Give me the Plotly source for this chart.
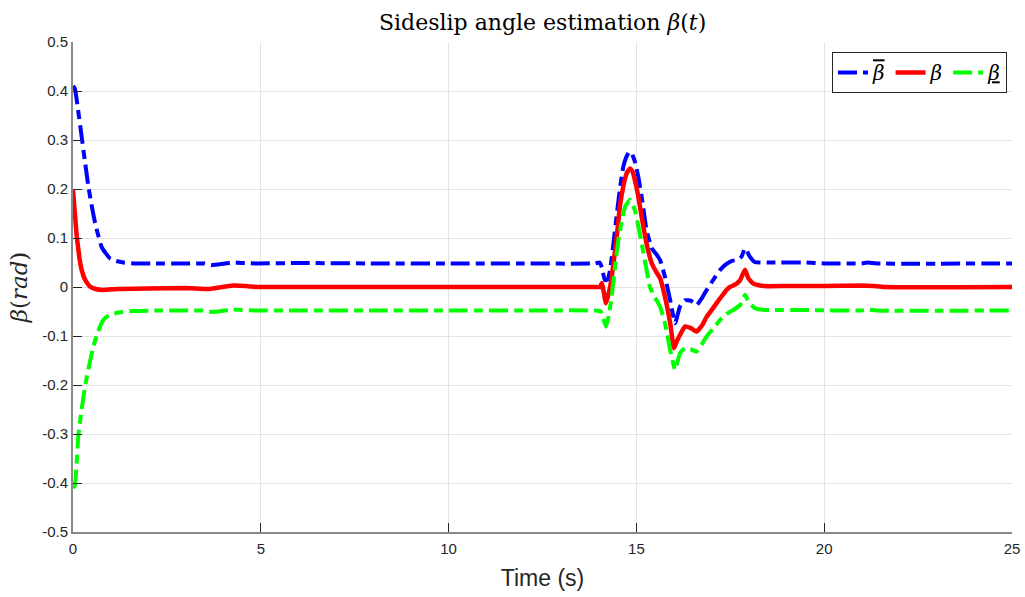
import plotly.graph_objects as go

# ---- data ----
t_upper = [0, 0.05, 0.12, 0.23, 0.32, 0.41, 0.5, 0.59, 0.68, 0.76, 0.88, 0.99, 1.15, 1.34, 1.7, 2.2, 3.0, 3.5, 3.68, 3.85,
           4.05, 4.26, 4.5, 4.9, 6, 8, 10, 12, 13.9, 14.02, 14.08, 14.16, 14.23, 14.3, 14.39, 14.48, 14.56, 14.65, 14.73, 14.81,
           14.88, 14.96, 15.05, 15.14, 15.27, 15.41, 15.52, 15.63, 15.76, 15.9, 16.03, 16.16, 16.29, 16.45, 16.6, 16.75, 16.87, 17.05, 17.23, 17.4,
           17.53, 17.71, 17.8, 17.89, 17.95, 18.02, 18.15, 18.3, 18.6, 19.5, 20.0, 21.0, 21.15, 21.4, 25]
v_upper = [0.41, 0.405, 0.37, 0.307, 0.255, 0.205, 0.165, 0.13, 0.103, 0.082, 0.068, 0.058, 0.053, 0.05, 0.048, 0.048, 0.048, 0.048, 0.045, 0.046,
           0.048, 0.05, 0.049, 0.048, 0.049, 0.048, 0.048, 0.048, 0.048, 0.05, 0.04, 0.014, 0.015, 0.035, 0.09, 0.15, 0.2, 0.245, 0.265, 0.276,
           0.272, 0.256, 0.225, 0.184, 0.116, 0.079, 0.068, 0.055, 0.021, -0.027, -0.074, -0.04, -0.027, -0.028, -0.037, -0.022, -0.006, 0.015, 0.035, 0.047,
           0.053, 0.056, 0.062, 0.079, 0.072, 0.062, 0.051, 0.05, 0.05, 0.05, 0.048, 0.048, 0.05, 0.048, 0.048]

t_beta = [0, 0.05, 0.1, 0.17, 0.23, 0.32, 0.45, 0.6, 0.8, 1.2, 2.0, 3.0, 3.65, 3.9, 4.26, 4.6, 4.9, 6, 8, 10,
          12, 13.9, 14.03, 14.08, 14.13, 14.19, 14.3, 14.39, 14.48, 14.56, 14.65, 14.74, 14.83, 14.9, 14.96, 15.05, 15.14, 15.27, 15.41, 15.52,
          15.63, 15.76, 15.9, 16.0, 16.08, 16.16, 16.29, 16.45, 16.6, 16.75, 16.87, 17.05, 17.23, 17.4, 17.49, 17.67, 17.76, 17.89, 17.98, 18.11,
          18.38, 19.0, 20.0, 21.0, 21.3, 21.6, 25]
v_beta = [0.198, 0.15, 0.103, 0.06, 0.035, 0.015, 0.001, -0.004, -0.006, -0.004, -0.003, -0.002, -0.004, -0.001, 0.003, 0.002, 0.0, 0.0, 0.0, 0.0,
          0.0, 0.0, 0.0, 0.008, -0.01, -0.033, 0.0, 0.048, 0.105, 0.164, 0.205, 0.232, 0.242, 0.235, 0.218, 0.185, 0.143, 0.089, 0.048, 0.032,
          0.018, -0.02, -0.074, -0.125, -0.11, -0.098, -0.081, -0.084, -0.091, -0.078, -0.061, -0.042, -0.023, -0.006, 0.0, 0.007, 0.014, 0.035, 0.018, 0.007,
          0.002, 0.002, 0.002, 0.003, 0.002, 0.0, 0.0]

t_lower = [0, 0.05, 0.14, 0.23, 0.32, 0.43, 0.54, 0.67, 0.81, 0.95, 1.1, 1.3, 1.6, 2.2, 3.0, 3.5, 3.68, 3.85, 4.05, 4.26,
           4.5, 4.9, 6, 8, 10, 12, 13.9, 14.05, 14.12, 14.19, 14.26, 14.34, 14.43, 14.52, 14.6, 14.7, 14.83, 14.96, 15.05, 15.14,
           15.27, 15.36, 15.5, 15.63, 15.76, 15.9, 16.03, 16.16, 16.29, 16.45, 16.6, 16.75, 16.87, 17.05, 17.23, 17.4, 17.58, 17.76, 17.89, 17.95,
           18.02, 18.15, 18.3, 18.6, 19.5, 21.0, 21.15, 21.4, 25]
v_lower = [-0.41, -0.405, -0.305, -0.25, -0.203, -0.16, -0.122, -0.09, -0.067, -0.058, -0.054, -0.051, -0.049, -0.048, -0.048, -0.048, -0.051, -0.05, -0.048, -0.046,
           -0.047, -0.048, -0.048, -0.048, -0.048, -0.048, -0.048, -0.05, -0.065, -0.081, -0.06, -0.02, 0.04, 0.096, 0.13, 0.164, 0.178, 0.157, 0.125, 0.089,
           0.035, 0.0, -0.022, -0.04, -0.074, -0.129, -0.169, -0.135, -0.125, -0.127, -0.132, -0.116, -0.101, -0.084, -0.067, -0.055, -0.047, -0.037, -0.016, -0.025,
           -0.033, -0.043, -0.046, -0.047, -0.047, -0.048, -0.046, -0.048, -0.048]

x_ticks = [0, 5, 10, 15, 20, 25]
x_ticklabels = ["0", "5", "10", "15", "20", "25"]
y_ticks = [0.5, 0.4, 0.3, 0.2, 0.1, 0, -0.1, -0.2, -0.3, -0.4, -0.5]
y_ticklabels = ["0.5", "0.4", "0.3", "0.2", "0.1", "0", "-0.1", "-0.2", "-0.3", "-0.4", "-0.5"]

series_names = ['<span style="text-decoration:overline"><i>β</i></span>',
                '<i>β</i>',
                '<span style="text-decoration:underline"><i>β</i></span>']

assert len(t_upper) == len(v_upper)
assert len(t_beta) == len(v_beta)
assert len(t_lower) == len(v_lower)

DASHDOT = "19px,6px,9px,6px"

fig = go.Figure()
fig.add_trace(go.Scatter(x=t_upper, y=v_upper, mode="lines", name=series_names[0],
                         line=dict(color="#0000ff", width=4, dash=DASHDOT, shape="spline", smoothing=0.4)))
fig.add_trace(go.Scatter(x=t_beta, y=v_beta, mode="lines", name=series_names[1],
                         line=dict(color="#ff0000", width=4.5, shape="spline", smoothing=0.4)))
fig.add_trace(go.Scatter(x=t_lower, y=v_lower, mode="lines", name=series_names[2],
                         line=dict(color="#00ff00", width=4, dash=DASHDOT, shape="spline", smoothing=0.4)))

tick_font = dict(family="Liberation Sans, Arial, sans-serif", size=15, color="#262626")

fig.update_layout(
    width=1025, height=597,
    margin=dict(l=73, r=13, t=42, b=65, autoexpand=False),
    paper_bgcolor="white", plot_bgcolor="white",
    title=dict(text="Sideslip angle estimation <i>β</i>(<i>t</i>)",
               font=dict(family="DejaVu Serif, serif", size=22, color="#000000"),
               x=0.5294, xanchor="center", y=0.963, yanchor="middle"),
    showlegend=True,
    legend=dict(orientation="h", x=0.9947, xanchor="right", y=0.9796, yanchor="top",
                bgcolor="white", bordercolor="#262626", borderwidth=1,
                font=dict(family="DejaVu Serif, serif", size=20, color="#000000"),
                itemwidth=30, tracegroupgap=0),
    xaxis=dict(range=[0, 25], tickvals=x_ticks, ticktext=x_ticklabels, automargin=False,
               showgrid=True, gridcolor="#e3e3e3", gridwidth=1, zeroline=False,
               showline=True, linecolor="#8a8a8a", linewidth=2,
               ticks="inside", ticklen=9, tickcolor="#262626", tickwidth=1,
               tickfont=tick_font, ticklabelstandoff=2,
               title=dict(text="Time (s)", font=dict(family="Liberation Sans, Arial, sans-serif", size=23, color="#262626"),
                          standoff=14)),
    yaxis=dict(range=[-0.5, 0.5], tickvals=y_ticks, ticktext=y_ticklabels, automargin=False,
               showgrid=True, gridcolor="#e3e3e3", gridwidth=1, zeroline=False,
               showline=True, linecolor="#8a8a8a", linewidth=2,
               ticks="inside", ticklen=9, tickcolor="#262626", tickwidth=1,
               tickfont=tick_font,
               title=dict(text="<i>β</i>(<i>rad</i>)", font=dict(family="DejaVu Serif, serif", size=23, color="#262626"),
                          standoff=8)),
)

fig.write_html("out.html")
